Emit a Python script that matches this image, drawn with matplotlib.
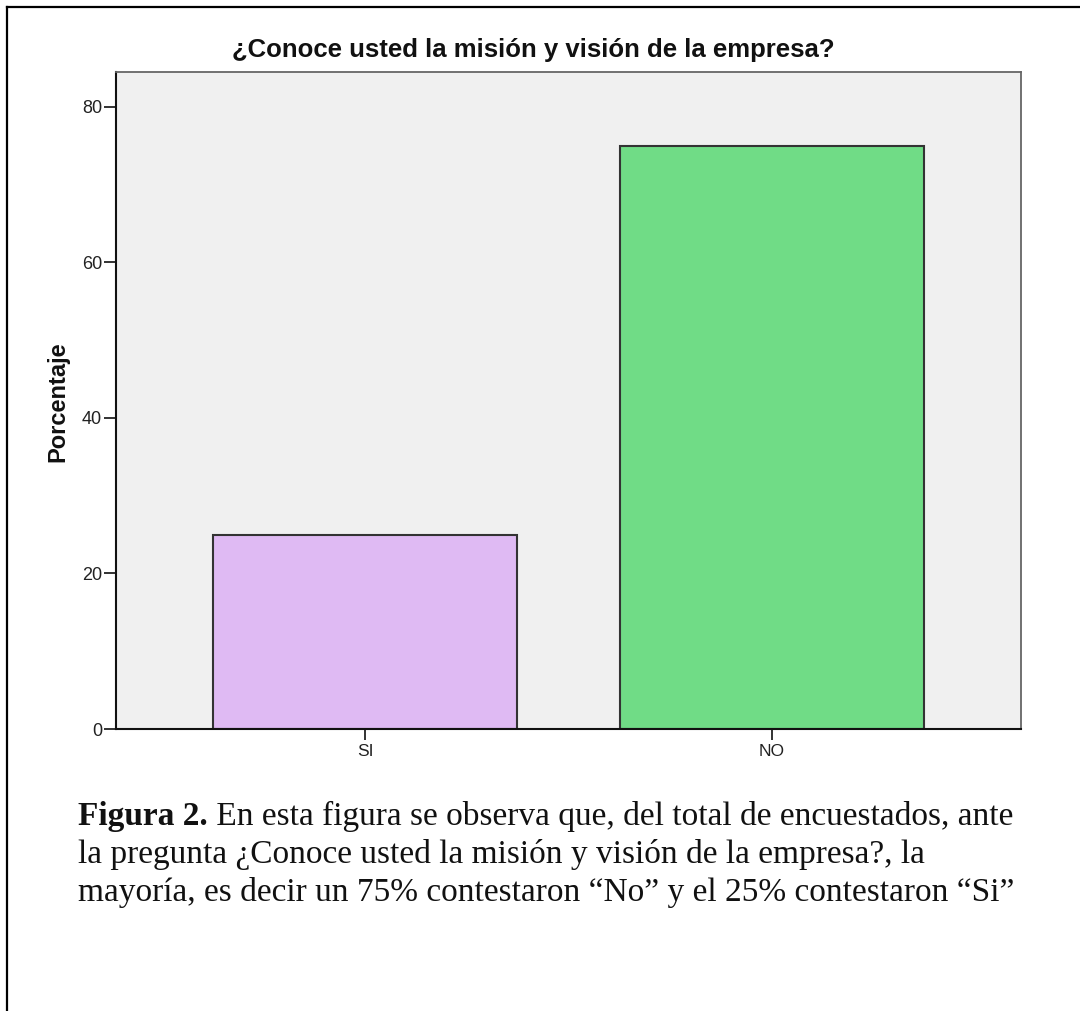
import matplotlib
matplotlib.use("Agg")
import matplotlib.pyplot as plt
from matplotlib.lines import Line2D

categories = ["SI", "NO"]
percentages = [25.0, 75.0]
yticks = [0, 20, 40, 60, 80]
bar_colors = ["#dfbaf3", "#70dc86"]

title = "¿Conoce usted la misión y visión de la empresa?"
ylabel = "Porcentaje"
caption_lines = [
    ("Figura 2.", " En esta figura se observa que, del total de encuestados, ante"),
    ("", "la pregunta ¿Conoce usted la misión y visión de la empresa?, la"),
    ("", "mayoría, es decir un 75% contestaron \u201cNo\u201d y el 25% contestaron \u201cSi\u201d"),
]

W, H = 1080, 1011
fig = plt.figure(figsize=(W / 100, H / 100), dpi=100)
fig.patch.set_facecolor("white")

# axes box in pixels
left, right, top, bottom = 116, 1021, 72, 729
ax = fig.add_axes([left / W, 1 - bottom / H, (right - left) / W, (bottom - top) / H])
ax.set_facecolor("#f0f0f0")

x = list(range(len(categories)))
ax.bar(x, percentages, width=0.747, color=bar_colors, edgecolor="#333333", linewidth=1.5, zorder=2)
ax.set_xlim(-0.612, 1.612)
ax.set_ylim(0, 84.5)
ax.set_yticks(yticks)
ax.set_yticklabels([str(v) for v in yticks], fontsize=13, family="Liberation Sans", color="#222222")
ax.set_xticks(x)
ax.set_xticklabels(categories, fontsize=12.5, family="Liberation Sans", color="#222222")
ax.tick_params(axis="y", direction="out", length=9, width=1.3, color="#222222", pad=1)
ax.tick_params(axis="x", direction="out", length=8, width=1.3, color="#222222", pad=3)

for s in ["left", "bottom"]:
    ax.spines[s].set_color("#111111")
    ax.spines[s].set_linewidth(1.5)
for s in ["top", "right"]:
    ax.spines[s].set_color("#666666")
    ax.spines[s].set_linewidth(1.3)

fig.text(533 / W, 1 - 57 / H, title, ha="center", va="baseline", fontsize=18.5,
         fontweight="bold", family="Liberation Sans", color="#111111")
fig.text(58 / W, 1 - 402 / H, ylabel, ha="center", va="center", rotation=90,
         fontsize=17, fontweight="bold", family="Liberation Sans", color="#111111")

# caption
ys = [825, 863, 901]
for (bold, rest), yy in zip(caption_lines, ys):
    if bold:
        t = fig.text(78 / W, 1 - yy / H, bold, ha="left", va="baseline", fontsize=24,
                     fontweight="bold", family="Liberation Serif", color="#111111")
        fig.canvas.draw()
        bb = t.get_window_extent()
        fig.text(bb.x1 / W, 1 - yy / H, rest, ha="left", va="baseline", fontsize=24,
                 family="Liberation Serif", color="#111111")
    else:
        fig.text(78 / W, 1 - yy / H, rest, ha="left", va="baseline", fontsize=24,
                 family="Liberation Serif", color="#111111")

# outer frame (top and left visible)
fig.add_artist(Line2D([7 / W, 1.0], [1 - 7 / H, 1 - 7 / H], color="black", linewidth=1.6,
                      transform=fig.transFigure))
fig.add_artist(Line2D([7 / W, 7 / W], [0.0, 1 - 7 / H], color="black", linewidth=1.6,
                      transform=fig.transFigure))

fig.savefig("out.png", dpi=100)
